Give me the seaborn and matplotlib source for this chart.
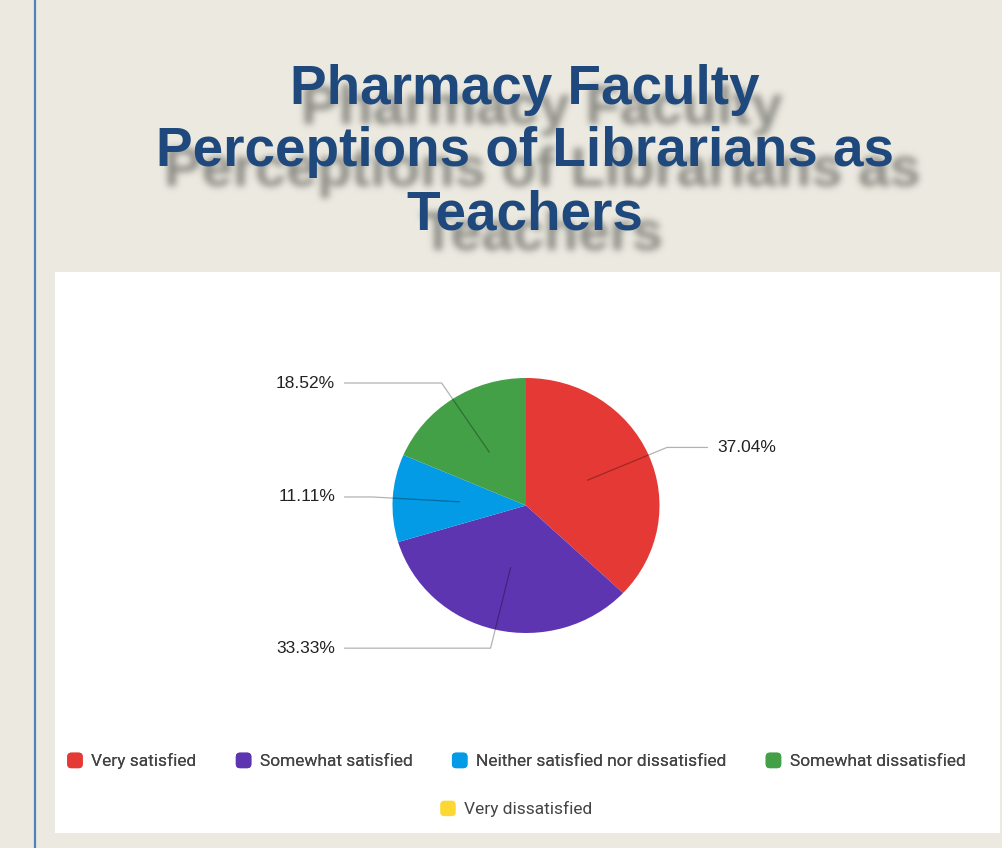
import numpy as np
import matplotlib
matplotlib.use("Agg")
import matplotlib.pyplot as plt
import seaborn as sns
from matplotlib.patches import Rectangle, FancyBboxPatch, Patch
from matplotlib.legend_handler import HandlerPatch
from matplotlib.lines import Line2D

# data
categories = ["Very satisfied", "Somewhat satisfied",
              "Neither satisfied nor dissatisfied", "Somewhat dissatisfied",
              "Very dissatisfied"]
percentages = [37.04, 33.33, 11.11, 18.52, 0.0]
colors = ["#E53935", "#5E35B1", "#039BE5", "#43A047", "#FDD835"]
title_lines = ["Pharmacy Faculty", "Perceptions of Librarians as", "Teachers"]

W, H = 1003, 848
BG = "#ECEAE0"
baselines = [104, 166, 229]
cx = 525 / W

sns.set_theme(style="white")
plt.rcParams["font.family"] = ["Liberation Sans", "DejaVu Sans"]


def blurred_title_shadow():
    # render the title offscreen, then blur its alpha channel
    sf = plt.figure(figsize=(W / 100, H / 100), dpi=100)
    sf.patch.set_alpha(0)
    for line, by in zip(title_lines, baselines):
        sf.text(cx + 17 / W, 1 - (by + 20) / H, line, ha="center",
                va="baseline", fontsize=40.5, fontweight="bold", color="black")
    sf.canvas.draw()
    a = np.asarray(sf.canvas.buffer_rgba())[..., 3].astype(float) / 255
    plt.close(sf)
    sigma = 3.5
    k = np.arange(-12, 13)
    kern = np.exp(-k ** 2 / (2 * sigma ** 2))
    kern /= kern.sum()
    a = np.apply_along_axis(lambda r: np.convolve(r, kern, mode="same"), 1, a)
    a = np.apply_along_axis(lambda c: np.convolve(c, kern, mode="same"), 0, a)
    img = np.zeros((a.shape[0], a.shape[1], 4))
    img[..., :3] = np.array([105, 105, 100]) / 255
    img[..., 3] = np.clip(a * 0.75, 0, 1)
    return img


shadow = blurred_title_shadow()

fig = plt.figure(figsize=(W / 100, H / 100), dpi=100)
fig.patch.set_facecolor(BG)

# white chart panel + slide accent line
fig.patches.append(Rectangle((55 / W, 1 - 833 / H), 945 / W, 561 / H,
                             transform=fig.transFigure, facecolor="white",
                             edgecolor="none", zorder=-2))
fig.lines.append(Line2D([34.5 / W, 34.5 / W], [0, 1], transform=fig.transFigure,
                        color="#4F81BD", lw=1.6, zorder=-1))

fig.figimage(shadow, xo=0, yo=0, origin="upper", zorder=-1)
for line, by in zip(title_lines, baselines):
    fig.text(cx, 1 - by / H, line, ha="center", va="baseline", fontsize=39.5,
             fontweight="bold", color="#1F497D", zorder=5)

# pie
ax = fig.add_axes([259 / W, (H - 760.5) / H, 534 / W, 510 / H])
ax.set_zorder(2)
ax.patch.set_visible(False)
wedges, _ = ax.pie(percentages, colors=colors, startangle=90,
                   counterclock=False, radius=1,
                   wedgeprops=dict(linewidth=0))
ax.set_aspect("auto")
ax.set_xlim(-2, 2)
ax.set_ylim(-2, 2)
ax.axis("off")

for w, pct in zip(wedges, percentages):
    if pct <= 0:
        continue
    mid = np.deg2rad((w.theta1 + w.theta2) / 2)
    c, s = np.cos(mid), np.sin(mid)
    side = 1 if c > 0 else -1
    ey = 1.15 * s
    ax.plot([0.5 * c, 1.15 * c, side * 1.36], [0.5 * s, ey, ey],
            color="black", alpha=0.3, lw=0.9, zorder=3)
    ax.text(side * 1.43, ey, f"{pct:.2f}%", ha="left" if side > 0 else "right",
            va="center", fontsize=12.5, color="#222222")


class RoundBoxHandler(HandlerPatch):
    def create_artists(self, legend, orig_handle, xdescent, ydescent,
                       width, height, fontsize, trans):
        size = min(width, height)
        p = FancyBboxPatch((-xdescent + (width - size) / 2 + 1.5,
                            -ydescent + (height - size) / 2 + 1.5),
                           size - 3, size - 3,
                           boxstyle="round,pad=1.5,rounding_size=3",
                           facecolor=orig_handle.get_facecolor(),
                           edgecolor="none", transform=trans)
        return [p]


handles = [Patch(facecolor=col, label=cat) for cat, col in zip(categories, colors)]
leg_kw = dict(frameon=False, handler_map={Patch: RoundBoxHandler()},
              handlelength=1.0, handleheight=1.0, handletextpad=0.45,
              columnspacing=2.2, borderpad=0, borderaxespad=0,
              prop={"family": ["Roboto", "DejaVu Sans"], "size": 12.5},
              labelcolor="#444444")
leg1 = fig.legend(handles=handles[:4], loc="center", ncol=4,
                  bbox_to_anchor=(516 / W, 1 - 761 / H), **leg_kw)
fig.add_artist(leg1)
fig.legend(handles=handles[4:], loc="center", ncol=1,
           bbox_to_anchor=(516 / W, 1 - 809 / H), **leg_kw)

fig.savefig("out.png", dpi=100, facecolor=BG)
